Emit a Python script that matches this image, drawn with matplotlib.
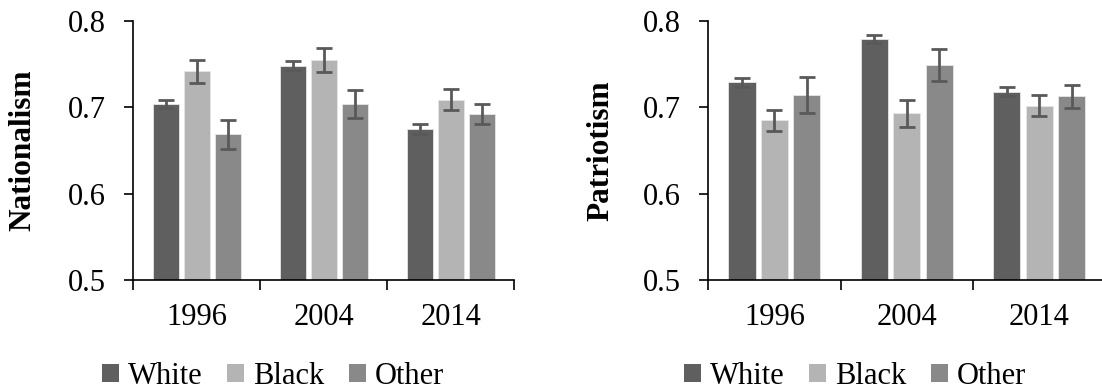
import numpy as np
import matplotlib
matplotlib.use('Agg')
import matplotlib.pyplot as plt
from matplotlib.patches import Patch

plt.rcParams['font.family'] = ['Liberation Serif', 'DejaVu Serif']

years = ['1996', '2004', '2014']
groups = ['White', 'Black', 'Other']
colors = ['#5f5f5f', '#b4b4b4', '#898989']

# Nationalism means and error bars (White, Black, Other per year)
nat_white = [0.704, 0.748, 0.675]
nat_black = [0.742, 0.755, 0.709]
nat_other = [0.669, 0.704, 0.692]
nat_white_err = [0.0042, 0.0052, 0.0054]
nat_black_err = [0.0134, 0.0136, 0.0117]
nat_other_err = [0.0168, 0.0165, 0.0117]

# Patriotism
pat_white = [0.729, 0.779, 0.718]
pat_black = [0.685, 0.693, 0.702]
pat_other = [0.714, 0.749, 0.713]
pat_white_err = [0.0051, 0.0049, 0.0052]
pat_black_err = [0.0122, 0.0154, 0.0122]
pat_other_err = [0.0208, 0.0190, 0.0132]


def draw(ax, vals, errs, ylabel, label_x):
    base = np.arange(len(years)) + 0.5
    for j, (v, e) in enumerate(zip(vals, errs)):
        x = base + (j - 1) * 0.245
        ax.bar(x, np.array(v) - 0.5, bottom=0.5, width=0.205, color=colors[j],
               edgecolor='#e6e6e6', linewidth=0.6, zorder=2)
        ax.errorbar(x, v, yerr=e, fmt='none', ecolor='#595959',
                    elinewidth=2, capsize=6, capthick=2, zorder=3)
    ax.set_xlim(0, 3)
    ax.set_ylim(0.5, 0.8)
    ax.set_yticks([0.5, 0.6, 0.7, 0.8])
    ax.set_yticklabels(['0.5', '0.6', '0.7', '0.8'])
    ax.set_xticks([0, 1, 2, 3])
    ax.set_xticklabels([])
    ax.set_xticks(base, minor=True)
    ax.set_xticklabels(years, minor=True)
    ax.tick_params(axis='x', which='major', direction='out', length=7, width=1.2)
    ax.tick_params(axis='x', which='minor', length=0, pad=16.5, labelsize=22)
    ax.tick_params(axis='y', direction='out', length=6.5, width=1.2, pad=13.5,
                   labelsize=22)
    for s in ['top', 'right']:
        ax.spines[s].set_visible(False)
    for s in ['left', 'bottom']:
        ax.spines[s].set_linewidth(1.2)
    ax.set_ylabel(ylabel, fontsize=22.5, fontweight='bold', va='center')
    ax.yaxis.set_label_coords(label_x, 0.5)


fig = plt.figure(figsize=(11.02, 3.92), dpi=100)
ax1 = fig.add_axes([0.121, 0.2857, 0.3457, 0.6607])
ax2 = fig.add_axes([0.6427, 0.2857, 0.3603, 0.6607])

draw(ax1, [nat_white, nat_black, nat_other],
     [nat_white_err, nat_black_err, nat_other_err], 'Nationalism', -0.291)
draw(ax2, [pat_white, pat_black, pat_other],
     [pat_white_err, pat_black_err, pat_other_err], 'Patriotism', -0.270)

handles = [Patch(facecolor=c, label=g) for c, g in zip(colors, groups)]
for cx in [273 / 1102, 855 / 1102]:
    fig.legend(handles=handles, loc='center', bbox_to_anchor=(cx, 0.04),
               ncol=3, frameon=False, fontsize=22, handlelength=0.55,
               handleheight=0.55, handletextpad=0.3, columnspacing=0.8,
               borderpad=0, borderaxespad=0)

fig.savefig('out.png', dpi=100)
